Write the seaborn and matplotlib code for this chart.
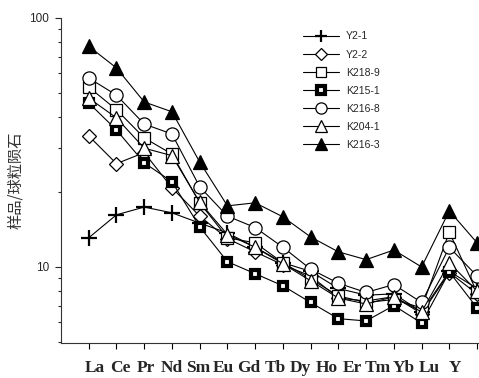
import numpy as np
import matplotlib
matplotlib.use("Agg")
import matplotlib.pyplot as plt
from matplotlib.ticker import FixedLocator, NullFormatter, FuncFormatter
import seaborn as sns

# REE labels on the x axis
elements = ['La', 'Ce', 'Pr', 'Nd', 'Sm', 'Eu', 'Gd', 'Tb', 'Dy', 'Ho',
            'Er', 'Tm', 'Yb', 'Lu', 'Y']

# sample / chondrite values
y2_1 = [13.1, 16.2, 17.4, 16.5, 15.0, 13.7, 12.0, 10.4, 9.6, 8.2, 7.7, 7.8, 6.6, 9.6, 8.2]
y2_2 = [33.6, 26.0, 28.8, 20.8, 16.0, 13.0, 11.5, 10.2, 9.2, 7.5, 7.3, 7.6, 6.5, 9.5, 7.8]
k218_9 = [52.8, 42.8, 33.0, 28.4, 18.1, 13.1, 12.5, 10.4, 8.95, 7.65, 7.2, 7.4, 6.85, 13.8, 7.9]
k215_1 = [45.6, 35.5, 26.2, 22.0, 14.5, 10.5, 9.4, 8.4, 7.2, 6.2, 6.07, 7.0, 5.95, 9.55, 6.85]
k216_8 = [57.4, 49.0, 37.5, 34.2, 21.0, 16.0, 14.4, 12.0, 9.8, 8.6, 7.9, 8.5, 7.2, 12.0, 9.2]
k204_1 = [47.7, 39.7, 30.0, 28.0, 18.2, 13.5, 12.0, 10.3, 8.8, 7.5, 7.1, 7.6, 6.6, 10.4, 8.0]
k216_3 = [77.0, 63.0, 46.0, 42.0, 26.4, 17.6, 18.1, 15.9, 13.2, 11.5, 10.7, 11.7, 10.0, 16.8, 12.5]

names = ['Y2-1', 'Y2-2', 'K218-9', 'K215-1', 'K216-8', 'K204-1', 'K216-3']
series = [y2_1, y2_2, k218_9, k215_1, k216_8, k204_1, k216_3]

# marker style per sample
styles = [
    dict(marker='+', ms=11, mew=1.6, mfc='black'),
    dict(marker='D', ms=7, mew=0.9, mfc='white'),
    dict(marker='s', ms=9, mew=0.9, mfc='white'),
    dict(marker='s', ms=6, mew=3.0, mfc='white'),
    dict(marker='o', ms=9.5, mew=0.9, mfc='white'),
    dict(marker='^', ms=9.5, mew=0.9, mfc='white'),
    dict(marker='^', ms=9.5, mew=0.9, mfc='black'),
]

sns.set_style("ticks")
plt.rcParams['font.family'] = ['Liberation Sans', 'DejaVu Sans']

fig = plt.figure(figsize=(4.79, 3.78), dpi=100)
ax = fig.add_axes([61/479, 35/378, 418/479, 325/378])

xs = np.arange(len(elements))
for name, vals, st in zip(names, series, styles):
    sns.lineplot(x=xs, y=vals, ax=ax, color='black', lw=0.8, mec='black',
                 label=name, **st)

ax.set_yscale('log')
ax.set_ylim(4.95, 100)
ax.set_xlim(-1, 14.07)
ax.yaxis.set_major_locator(FixedLocator([10, 100]))
ax.yaxis.set_major_formatter(FuncFormatter(lambda v, p: '%d' % v))
ax.yaxis.set_minor_locator(FixedLocator([5, 6, 7, 8, 9, 20, 30, 40, 50, 60, 70, 80, 90]))
ax.yaxis.set_minor_formatter(NullFormatter())

# ticks at each element, labels set as one squeezed row below them
ax.set_xticks(xs)
ax.set_xticklabels([])
label_pos = np.linspace(0.22, 13.2, len(elements))
ax.set_xticks(label_pos, minor=True)
ax.set_xticklabels(elements, minor=True, fontfamily='Liberation Serif',
                   fontweight='bold', fontsize=12.5)
ax.tick_params(axis='x', which='major', direction='out', length=4.5, width=0.8, colors='black')
ax.tick_params(axis='x', which='minor', length=0, pad=12.5)
ax.tick_params(axis='y', which='major', direction='out', length=4.5, width=0.8, labelsize=8.5, pad=4)
ax.tick_params(axis='y', which='minor', direction='out', length=2.5, width=0.8)

for s in ['top', 'right']:
    ax.spines[s].set_visible(False)
for s in ['left', 'bottom']:
    ax.spines[s].set_color('#333333')
    ax.spines[s].set_linewidth(0.8)

ax.set_ylabel('样品/球粒陨石', fontfamily=['Noto Sans CJK SC', 'DejaVu Sans'],
              fontsize=11, fontweight='light', color='#333333')
ax.yaxis.set_label_coords(-0.088, 0.5)
ax.set_xlabel('')

leg = ax.legend(loc='upper left', bbox_to_anchor=(294/479, 1 - 22/378),
                bbox_transform=fig.transFigure, frameon=False, fontsize=7.5,
                handlelength=3.4, labelspacing=0.78, handletextpad=0.7,
                markerscale=0.85)

fig.savefig('out.png', dpi=100)
